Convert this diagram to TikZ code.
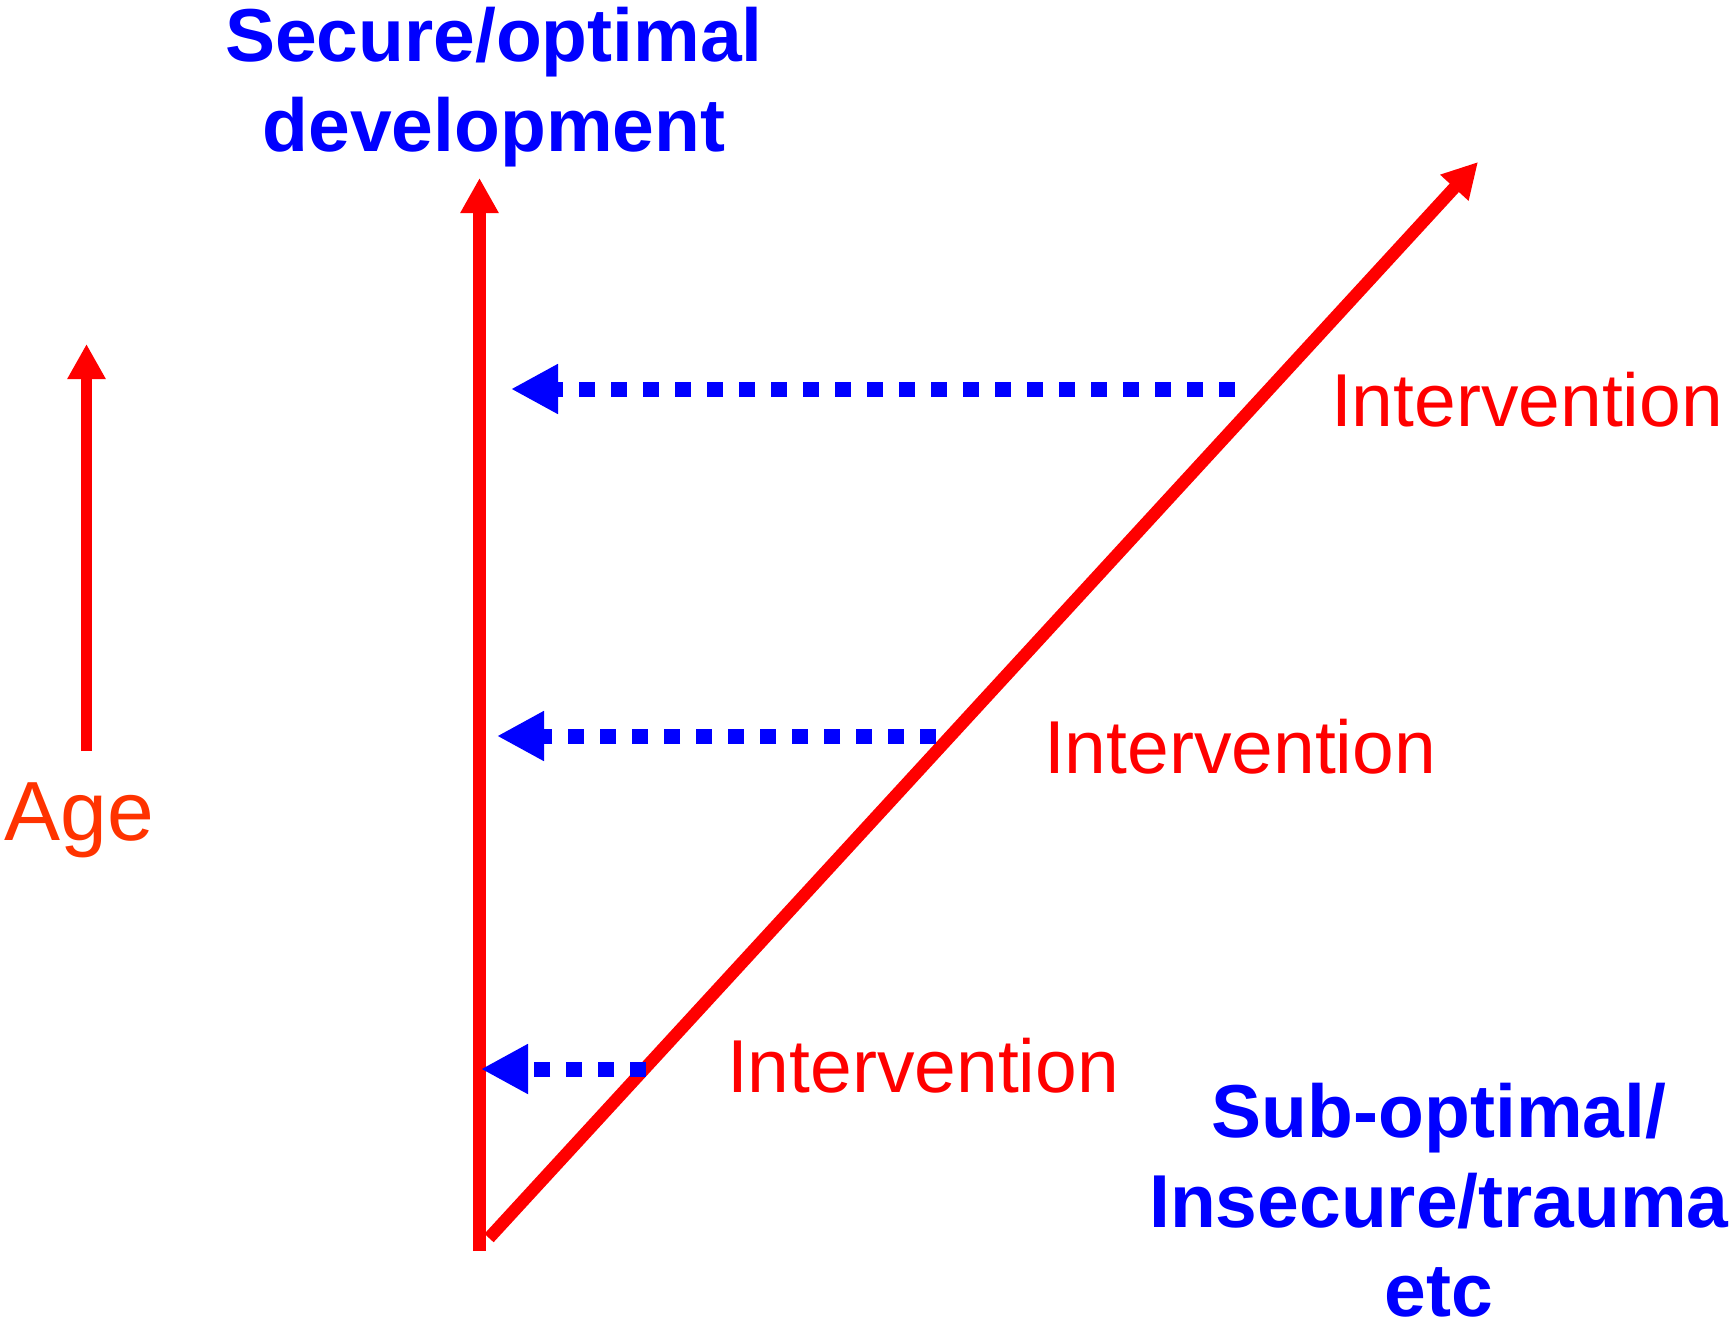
\documentclass[tikz,border=0pt]{standalone}
\usepackage{fontspec}
\setmainfont{Liberation Sans}
\usetikzlibrary{arrows.meta}
\definecolor{myred}{RGB}{255,0,0}
\definecolor{myblue}{RGB}{0,0,255}
\definecolor{ageorange}{RGB}{255,51,0}
\tikzset{
  redarrow/.style={draw=myred, line width=6.25pt, -{Triangle[length=17.5pt,width=18pt]}},
  bluedots/.style={draw=myblue, line width=7.5pt, dash pattern=on 8pt off 8pt, -{Triangle[length=23.5pt,width=23.5pt]}},
  bluelabel/.style={text=myblue, font=\fontsize{37.5}{44}\selectfont\bfseries, inner sep=0pt, anchor=base},
  redlabel/.style={text=myred, font=\fontsize{37.5}{44}\selectfont, inner sep=0pt, anchor=base},
  agelabel/.style={text=ageorange, font=\fontsize{42}{50}\selectfont, inner sep=0pt, anchor=base}
}
\begin{document}
\begin{tikzpicture}[x=0.5pt, y=-0.5pt]
\useasboundingbox (0,0) rectangle (1730,1318);
% coordinates
\coordinate (vbot) at (479.5,1251);
\coordinate (vtop) at (479.5,178);
\coordinate (dbot) at (489,1238);
\coordinate (dtop) at (1478,162);
\coordinate (abot) at (86.5,751);
\coordinate (atop) at (86.5,344);
\coordinate (b1s) at (1235,389);
\coordinate (b1e) at (511,389);
\coordinate (b2s) at (936,736);
\coordinate (b2e) at (497,736);
\coordinate (b3s) at (646,1069);
\coordinate (b3e) at (481,1069);
% arrows
\draw[redarrow] (vbot) -- (vtop);
\draw[redarrow] (dbot) -- (dtop);
\draw[redarrow, line width=5.75pt] (abot) -- (atop);
\draw[bluedots] (b1s) -- (b1e);
\draw[bluedots] (b2s) -- (b2e);
\draw[bluedots] (b3s) -- (b3e);
% labels
\node[bluelabel] (sec1) at (494,61) {Secure/optimal};
\node[bluelabel] (sec2) at (494,151) {development};
\node[bluelabel] (sub1) at (1439,1137) {Sub-optimal/};
\node[bluelabel] (sub2) at (1439,1227) {Insecure/trauma};
\node[bluelabel] (sub3) at (1439,1316) {etc};
\node[redlabel] (int1) at (1527,426) {Intervention};
\node[redlabel] (int2) at (1240,773) {Intervention};
\node[redlabel] (int3) at (923,1092) {Intervention};
\node[agelabel] (age) at (79.5,840) {Age};
\end{tikzpicture}
\end{document}
